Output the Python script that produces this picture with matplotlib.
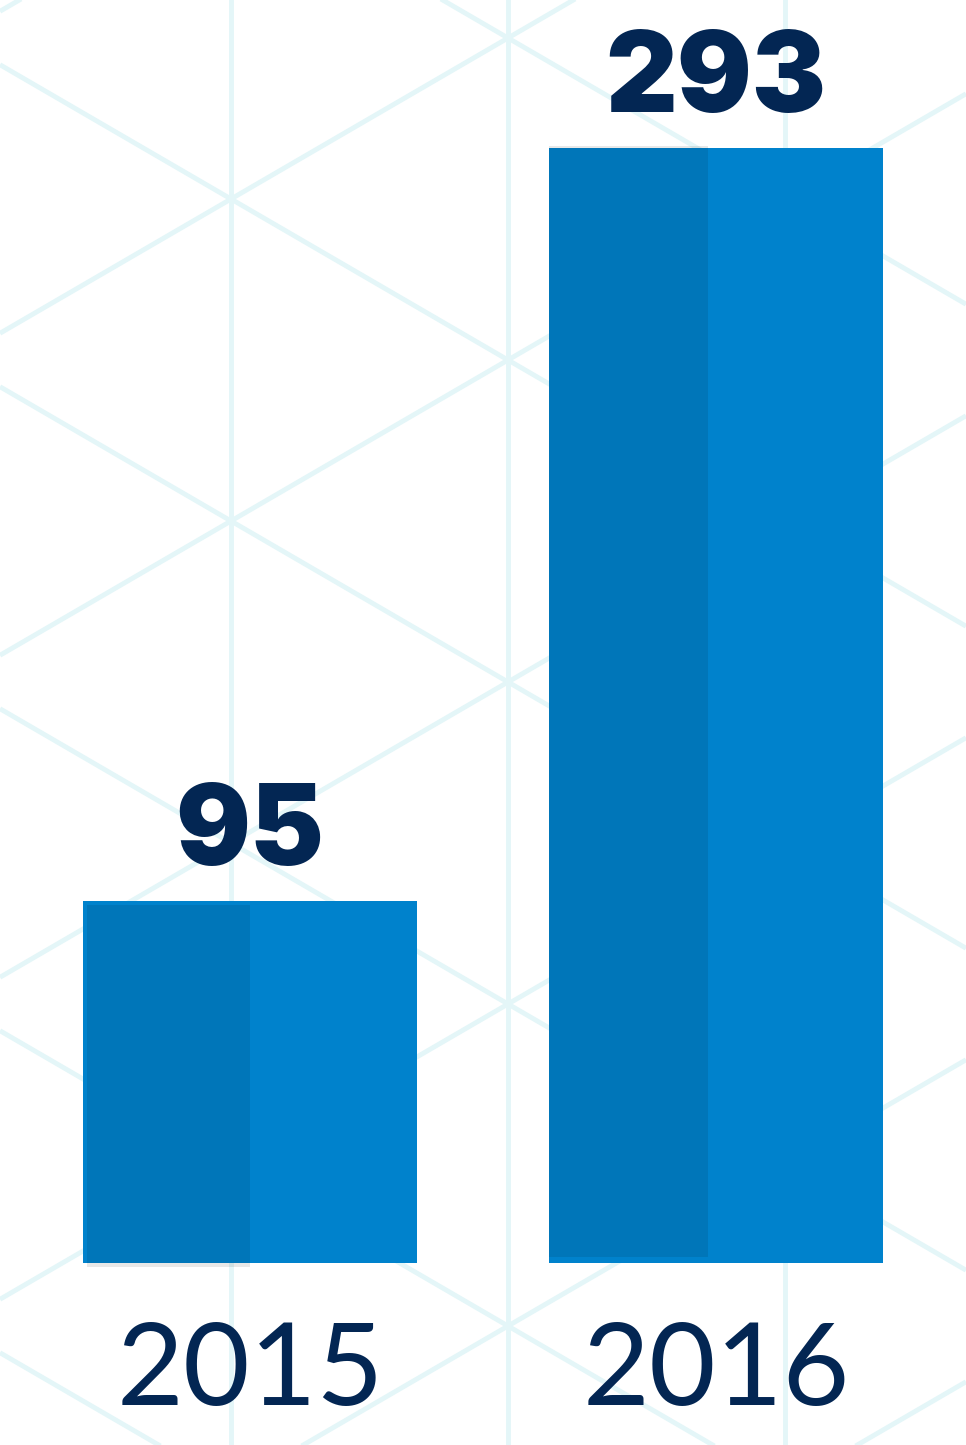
import matplotlib
matplotlib.use('Agg')
import matplotlib.pyplot as plt

# chart data
years = ['2015', '2016']
values = [95, 293]

# style
W, H = 966, 1445
bar_color = '#0082cc'
text_color = '#032653'
grid_color = '#e4f6f8'
px_per_unit = 1115 / 293      # vertical scale
zero_px = 182                 # distance of value 0 from the bottom edge
bar_w = 334 / 466             # bar width in category units
# the darker left half is a faint black sheet, slightly out of register
shade_dx = [4, 0]             # px, left edge shift
shade_top = [-4, 2]           # px, top edge shift (+ is up)
shade_bot = [-4, 6]           # px, bottom edge shift (+ is up)
shade_frac = [163 / 334, 159 / 334]

fig = plt.figure(figsize=(W / 100, H / 100), dpi=100)
fig.patch.set_facecolor('white')

# background triangle pattern, in pixel units
bg = fig.add_axes([0, 0, 1, 1], zorder=0)
bg.set_xlim(0, W)
bg.set_ylim(H, 0)
bg.axis('off')
x0, y0, step, rise = 231, 199, 277, 161
slope = rise / step
for k in range(-1, 4):
    bg.axvline(x0 + k * step, color=grid_color, lw=3.5)
for m in range(-4, 8):
    yc = y0 + 2 * rise * m
    bg.plot([0, W], [yc - slope * x0, yc + slope * (W - x0)],
            color=grid_color, lw=3.5, solid_capstyle='butt')
    bg.plot([0, W], [yc + slope * x0, yc - slope * (W - x0)],
            color=grid_color, lw=3.5, solid_capstyle='butt')

# bars
ax = fig.add_axes([0, 0, 1, 1], zorder=1)
ax.patch.set_alpha(0)
ax.axis('off')
ax.set_xlim(-250 / 466, (W - 250) / 466)
ax.set_ylim(-zero_px / px_per_unit, (H - zero_px) / px_per_unit)

xs = list(range(len(years)))
ax.bar(xs, values, width=bar_w, color=bar_color, linewidth=0)

px_x = 1 / 466
for i, v in enumerate(values):
    left = i - bar_w / 2 + shade_dx[i] * px_x
    bottom = shade_bot[i] / px_per_unit
    top = v + shade_top[i] / px_per_unit
    ax.bar(left, top - bottom, bottom=bottom, width=bar_w * shade_frac[i],
           align='edge', color='black', alpha=0.09, linewidth=0)

# value labels and year labels
for i, v in enumerate(values):
    ax.annotate(str(v), (i, v), xytext=(0, 26), textcoords='offset points',
                ha='center', va='baseline', fontsize=80, fontweight='black',
                family='Inter', color=text_color)
    ax.annotate(years[i], (i, 0), xytext=(0, -102),
                textcoords='offset points', ha='center', va='baseline',
                fontsize=83, family='Lato', color=text_color)

fig.savefig('out.png', dpi=100)
